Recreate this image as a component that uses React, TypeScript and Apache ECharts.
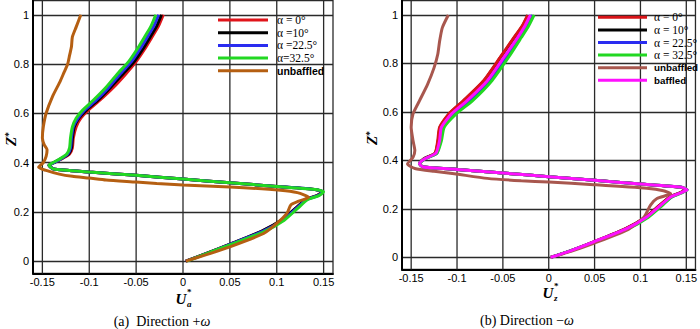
import React, { useEffect, useRef } from "react";
import * as echarts from "echarts";

// ---------- data: [U*, Z*] pairs ----------
// (a) Direction +ω
const aAlpha0 = [[-0.021,1.0],[-0.026,0.955],[-0.033,0.91],[-0.041,0.86],[-0.050,0.81],[-0.061,0.76],[-0.074,0.706],[-0.089,0.652],[-0.101,0.613],[-0.109,0.58],[-0.114,0.545],[-0.117,0.50],[-0.118,0.46],[-0.121,0.435],[-0.128,0.418],[-0.137,0.401],[-0.143,0.389],[-0.138,0.374],[-0.10,0.362],[-0.05,0.348],[0.0,0.333],[0.05,0.318],[0.10,0.303],[0.142,0.290],[0.148,0.281],[0.143,0.266],[0.131,0.250],[0.120,0.214],[0.106,0.168],[0.084,0.121],[0.05,0.068],[0.025,0.031],[0.003,0.0]];
const aAlpha10 = [[-0.023,1.0],[-0.028,0.955],[-0.035,0.91],[-0.043,0.86],[-0.052,0.81],[-0.064,0.76],[-0.077,0.706],[-0.091,0.652],[-0.103,0.613],[-0.111,0.58],[-0.116,0.545],[-0.118,0.50],[-0.119,0.46],[-0.122,0.435],[-0.129,0.418],[-0.137,0.401],[-0.143,0.389],[-0.138,0.374],[-0.10,0.362],[-0.05,0.348],[0.0,0.333],[0.05,0.318],[0.10,0.303],[0.142,0.290],[0.149,0.281],[0.143,0.266],[0.131,0.250],[0.120,0.214],[0.106,0.169],[0.084,0.122],[0.05,0.069],[0.025,0.031],[0.003,0.0]];
const aAlpha225 = [[-0.026,1.0],[-0.031,0.955],[-0.038,0.91],[-0.046,0.86],[-0.055,0.81],[-0.067,0.76],[-0.079,0.706],[-0.093,0.652],[-0.105,0.613],[-0.112,0.58],[-0.117,0.545],[-0.119,0.50],[-0.120,0.46],[-0.123,0.435],[-0.129,0.418],[-0.137,0.401],[-0.143,0.389],[-0.138,0.374],[-0.10,0.362],[-0.05,0.348],[0.0,0.333],[0.05,0.318],[0.10,0.303],[0.142,0.290],[0.149,0.281],[0.144,0.266],[0.132,0.250],[0.121,0.214],[0.107,0.168],[0.085,0.121],[0.05,0.068],[0.025,0.030],[0.003,0.0]];
const aAlpha325 = [[-0.029,1.0],[-0.034,0.955],[-0.041,0.91],[-0.049,0.86],[-0.058,0.81],[-0.070,0.76],[-0.082,0.706],[-0.096,0.652],[-0.107,0.613],[-0.114,0.58],[-0.118,0.545],[-0.120,0.50],[-0.121,0.46],[-0.124,0.435],[-0.130,0.418],[-0.138,0.401],[-0.143,0.389],[-0.138,0.374],[-0.10,0.362],[-0.05,0.348],[0.0,0.333],[0.05,0.318],[0.10,0.303],[0.143,0.290],[0.150,0.281],[0.145,0.266],[0.133,0.250],[0.122,0.213],[0.108,0.166],[0.086,0.119],[0.05,0.066],[0.025,0.030],[0.004,0.0]];
const aUnbaffled = [[-0.109,1.0],[-0.114,0.95],[-0.118,0.91],[-0.119,0.87],[-0.121,0.835],[-0.123,0.80],[-0.127,0.765],[-0.131,0.73],[-0.139,0.67],[-0.146,0.60],[-0.149,0.545],[-0.150,0.50],[-0.148,0.472],[-0.145,0.452],[-0.146,0.425],[-0.149,0.40],[-0.154,0.381],[-0.146,0.368],[-0.132,0.353],[-0.118,0.344],[-0.100,0.337],[-0.082,0.329],[-0.05,0.321],[-0.028,0.315],[0.0,0.309],[0.05,0.301],[0.104,0.288],[0.122,0.278],[0.134,0.259],[0.122,0.241],[0.115,0.228],[0.111,0.195],[0.100,0.153],[0.086,0.112],[0.05,0.058],[0.025,0.026],[0.003,0.0]];

// (b) Direction −ω
const bAlpha0 = [[-0.023,1.0],[-0.029,0.955],[-0.038,0.907],[-0.053,0.825],[-0.071,0.729],[-0.093,0.647],[-0.109,0.592],[-0.119,0.537],[-0.121,0.482],[-0.124,0.430],[-0.136,0.407],[-0.141,0.387],[-0.137,0.373],[-0.10,0.363],[-0.05,0.348],[0.0,0.333],[0.05,0.318],[0.10,0.303],[0.143,0.290],[0.150,0.279],[0.143,0.266],[0.132,0.249],[0.121,0.215],[0.106,0.167],[0.084,0.119],[0.049,0.064],[0.025,0.029],[0.002,0.0]];
const bAlpha10 = [[-0.0225,1.0],[-0.0285,0.955],[-0.0375,0.907],[-0.0525,0.825],[-0.0705,0.729],[-0.0925,0.647],[-0.1085,0.592],[-0.1185,0.537],[-0.1205,0.482],[-0.1238,0.430],[-0.136,0.407],[-0.141,0.387],[-0.137,0.373],[-0.10,0.363],[-0.05,0.348],[0.0,0.333],[0.05,0.318],[0.10,0.303],[0.143,0.290],[0.150,0.279],[0.143,0.266],[0.132,0.249],[0.121,0.215],[0.106,0.167],[0.084,0.119],[0.049,0.064],[0.025,0.029],[0.002,0.0]];
const bAlpha225 = [[-0.018,1.0],[-0.024,0.955],[-0.032,0.907],[-0.046,0.825],[-0.064,0.729],[-0.085,0.647],[-0.103,0.592],[-0.115,0.537],[-0.118,0.482],[-0.122,0.430],[-0.135,0.407],[-0.141,0.387],[-0.137,0.373],[-0.10,0.363],[-0.05,0.348],[0.0,0.333],[0.05,0.318],[0.10,0.303],[0.144,0.290],[0.151,0.279],[0.144,0.266],[0.134,0.249],[0.123,0.215],[0.108,0.167],[0.086,0.119],[0.050,0.064],[0.025,0.029],[0.002,0.0]];
const bAlpha325 = [[-0.016,1.0],[-0.022,0.955],[-0.030,0.907],[-0.044,0.825],[-0.062,0.729],[-0.083,0.647],[-0.101,0.592],[-0.114,0.537],[-0.117,0.482],[-0.122,0.430],[-0.135,0.407],[-0.141,0.387],[-0.137,0.373],[-0.10,0.363],[-0.05,0.348],[0.0,0.333],[0.05,0.318],[0.10,0.303],[0.144,0.290],[0.151,0.279],[0.145,0.266],[0.134,0.249],[0.124,0.215],[0.109,0.167],[0.087,0.119],[0.050,0.064],[0.025,0.029],[0.002,0.0]];
const bUnbaffled = [[-0.1095,1.0],[-0.116,0.948],[-0.119,0.892],[-0.121,0.838],[-0.125,0.783],[-0.132,0.715],[-0.141,0.646],[-0.148,0.592],[-0.150,0.537],[-0.148,0.482],[-0.146,0.441],[-0.148,0.413],[-0.154,0.385],[-0.146,0.367],[-0.125,0.355],[-0.103,0.345],[-0.067,0.326],[-0.030,0.316],[0.0,0.311],[0.049,0.300],[0.107,0.285],[0.125,0.275],[0.133,0.263],[0.118,0.243],[0.111,0.216],[0.104,0.167],[0.085,0.112],[0.049,0.058],[0.025,0.026],[0.002,0.0]];
const bBaffled = [[-0.020,1.0],[-0.026,0.955],[-0.034,0.907],[-0.049,0.825],[-0.067,0.729],[-0.089,0.647],[-0.106,0.592],[-0.117,0.537],[-0.119,0.482],[-0.123,0.430],[-0.135,0.407],[-0.141,0.387],[-0.137,0.373],[-0.10,0.363],[-0.05,0.348],[0.0,0.333],[0.05,0.318],[0.10,0.303],[0.144,0.290],[0.151,0.279],[0.144,0.266],[0.133,0.249],[0.122,0.215],[0.107,0.167],[0.085,0.119],[0.049,0.064],[0.025,0.029],[0.002,0.0]];

const namesA = ["α = 0°", "α =10°", "α =22.5°", "α=32.5°", "unbaffled"];
const namesB = ["α = 0°", "α = 10°", "α = 22.5°", "α = 32.5°", "unbaffled", "baffled"];
const colorsA = ["#e0141a", "#000000", "#2a2cf0", "#22d822", "#b55f12"];
const colorsB = ["#d81418", "#000000", "#2a2cf0", "#22d822", "#a8574e", "#ff10ff"];
const dataA = [aAlpha0, aAlpha10, aAlpha225, aAlpha325, aUnbaffled];
const dataB = [bAlpha0, bAlpha10, bAlpha225, bAlpha325, bUnbaffled, bBaffled];
// drawing order of (b): black under red
const drawOrderB = [1, 0, 2, 3, 4, 5];

// vertical grid line positions (x-axis values), incl. right border
const xGridValues = [-0.15, -0.1, -0.05, 0, 0.05, 0.1, 0.15, 0.16];
const Y_MIN = -0.05;

const SERIF = "'Liberation Serif', 'Times New Roman', serif";
const SANS = "'Liberation Sans', Arial, sans-serif";
const GRID_COLOR = "#2a2a2a";

function legendItems(names: string[], colors: string[], sansSize: number) {
  return names.map((n, i) => ({
    name: n,
    itemStyle: { color: colors[i] },
    textStyle: n.indexOf("baffled") >= 0
      ? { fontFamily: SANS, fontWeight: "bold", fontSize: sansSize, color: "#000", lineHeight: 12 }
      : { fontFamily: SERIF, fontSize: 11.5, color: "#000", lineHeight: 12 },
  }));
}

function xAxisCfg(grid: number) {
  return {
    gridIndex: grid, type: "value", min: -0.16, max: 0.16, splitNumber: 6,
    axisLine: { onZero: false, lineStyle: { color: "#000", width: 2 } },
    axisTick: { show: false },
    axisLabel: { showMinLabel: false, showMaxLabel: false, fontFamily: SANS, fontSize: 11, color: "#000", margin: 3 },
    splitLine: { show: false },
  };
}
function yAxisCfg(grid: number, max: number) {
  return {
    gridIndex: grid, type: "value", min: Y_MIN, max, splitNumber: 5,
    axisLine: { onZero: false, lineStyle: { color: "#000", width: 2 } },
    axisTick: { show: false },
    axisLabel: { showMinLabel: false, showMaxLabel: false, fontFamily: SANS, fontSize: 11, color: "#000", margin: 4 },
    splitLine: { show: true, lineStyle: { color: GRID_COLOR, width: 1.3, opacity: 1 } },
  };
}

function vGridSeries(axisIndex: number, yMax: number) {
  return {
    type: "custom", xAxisIndex: axisIndex, yAxisIndex: axisIndex, silent: true, z: 1,
    data: xGridValues.map((v) => [v, 0]),
    encode: { x: 0, y: 1 },
    renderItem: (_params: any, api: any) => {
      const v = api.value(0);
      const p1 = api.coord([v, Y_MIN]);
      const p2 = api.coord([v, yMax]);
      return {
        type: "line",
        shape: { x1: p1[0], y1: p1[1], x2: p2[0], y2: p2[1] },
        style: { stroke: GRID_COLOR, lineWidth: 1.3 },
      };
    },
  };
}

export default function App() {
  const ref = useRef<HTMLDivElement>(null);
  useEffect(() => {
    if (!ref.current) return;
    const chart = echarts.init(ref.current, null, { renderer: "svg" });
    const series: any[] = [vGridSeries(0, 1.06), vGridSeries(1, 1.062)];
    dataA.forEach((d, i) => series.push({
      type: "line", name: namesA[i], xAxisIndex: 0, yAxisIndex: 0, data: d,
      symbol: "none", showSymbol: false, color: colorsA[i], smooth: 0.2, z: 2,
      lineStyle: { width: 3, color: colorsA[i] },
    }));
    drawOrderB.forEach((i) => series.push({
      type: "line", name: namesB[i], xAxisIndex: 1, yAxisIndex: 1, data: dataB[i],
      symbol: "none", showSymbol: false, color: colorsB[i], smooth: 0.2, z: 2,
      lineStyle: { width: 3, color: colorsB[i] },
    }));
    const sup = { fontFamily: SERIF, fontWeight: "bold", fontSize: 9, fill: "#000" };
    const zRich = {
      z: { fontFamily: SERIF, fontWeight: "bold", fontStyle: "italic", fontSize: 15 },
      s: { fontFamily: SERIF, fontWeight: "bold", fontSize: 10, verticalAlign: "top" },
    };
    chart.setOption({
      animation: false,
      grid: [
        { left: 33, top: -1, width: 300, height: 274.4 },
        { left: 402, top: -1, width: 296, height: 270.5 },
      ],
      xAxis: [xAxisCfg(0), xAxisCfg(1)],
      yAxis: [yAxisCfg(0, 1.06), yAxisCfg(1, 1.062)],
      legend: [
        {
          orient: "vertical", left: 218, top: 14, padding: 0, itemGap: 0.7,
          itemWidth: 50, itemHeight: 3, icon: "rect",
          textStyle: { padding: [0, 0, 0, 4] },
          data: legendItems(namesA, colorsA, 10.5),
        },
        {
          orient: "vertical", left: 598, top: 11.3, padding: 0, itemGap: 0.6,
          itemWidth: 49, itemHeight: 3, icon: "rect",
          textStyle: { padding: [0, 0, 0, 2] },
          data: legendItems(namesB, colorsB, 9.8),
        },
      ],
      graphic: [
        { type: "text", x: 11, y: 139, rotation: Math.PI / 2, style: { text: "{z|Z}{s|*}", align: "center", verticalAlign: "middle", rich: zRich } },
        { type: "text", x: 372, y: 138, rotation: Math.PI / 2, style: { text: "{z|Z}{s|*}", align: "center", verticalAlign: "middle", rich: zRich } },
        { type: "text", x: 181, y: 299, style: { text: "U", align: "center", verticalAlign: "middle", fontFamily: SERIF, fontWeight: "bold", fontStyle: "italic", fontSize: 15, fill: "#000" } },
        { type: "text", x: 187, y: 292, style: { text: "*", align: "left", verticalAlign: "middle", ...sup } },
        { type: "text", x: 187, y: 304, style: { text: "a", align: "left", verticalAlign: "middle", ...sup, fontStyle: "italic" } },
        { type: "text", x: 548, y: 293, style: { text: "U", align: "center", verticalAlign: "middle", fontFamily: SERIF, fontWeight: "bold", fontStyle: "italic", fontSize: 15, fill: "#000" } },
        { type: "text", x: 554, y: 286, style: { text: "*", align: "left", verticalAlign: "middle", ...sup } },
        { type: "text", x: 554, y: 298, style: { text: "z", align: "left", verticalAlign: "middle", ...sup, fontStyle: "italic" } },
        {
          type: "text", x: 162, y: 321,
          style: {
            text: "{n|(a)  Direction +}{w|ω}", align: "center", verticalAlign: "middle",
            rich: { n: { fontFamily: SERIF, fontSize: 14, fill: "#000" }, w: { fontFamily: SERIF, fontStyle: "italic", fontSize: 14, fill: "#000" } },
          },
        },
        {
          type: "text", x: 527, y: 320,
          style: {
            text: "{n|(b) Direction −}{w|ω}", align: "center", verticalAlign: "middle",
            rich: { n: { fontFamily: SERIF, fontSize: 14, fill: "#000" }, w: { fontFamily: SERIF, fontStyle: "italic", fontSize: 14, fill: "#000" } },
          },
        },
      ],
      series,
    });
    return () => chart.dispose();
  }, []);
  return (
    <div
      ref={ref}
      style={{ position: "fixed", left: 0, top: 0, width: 700, height: 329, background: "#fff" }}
    />
  );
}
